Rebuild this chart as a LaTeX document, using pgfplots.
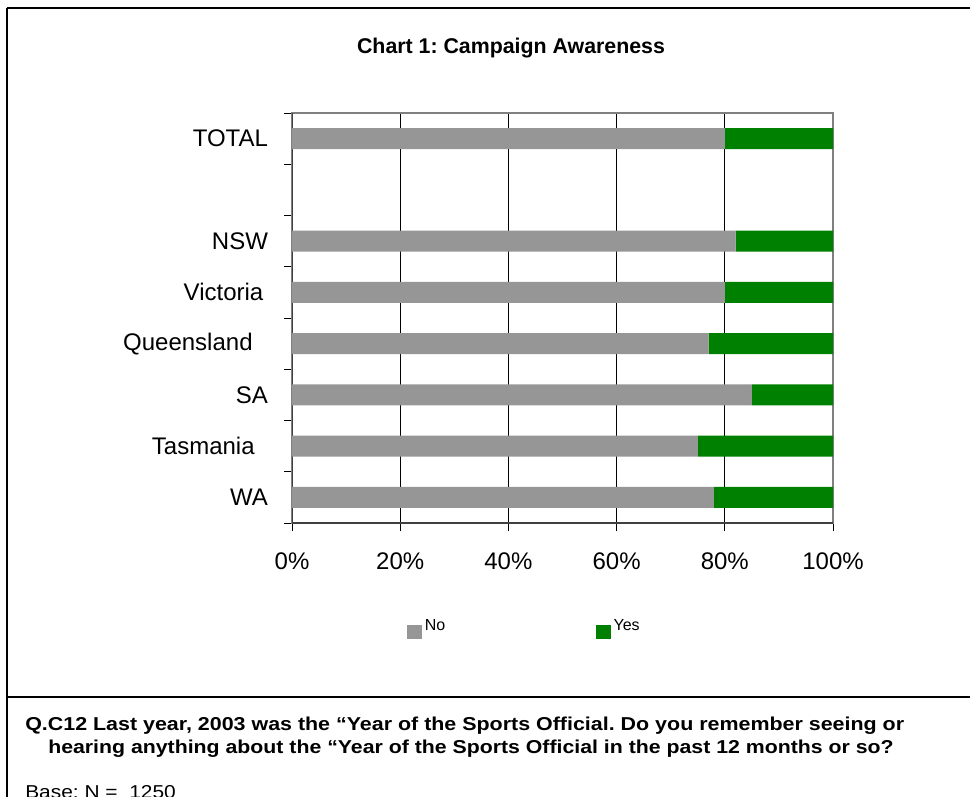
\documentclass[border=0pt]{standalone}
\usepackage{graphicx}
\usepackage{pgfplots}
\pgfplotsset{compat=1.18}
\usepackage{fontspec}
\setmainfont{Liberation Sans}
\frenchspacing

\definecolor{barNo}{RGB}{150,150,150}
\definecolor{barYes}{RGB}{0,128,0}
\definecolor{axgray}{RGB}{128,128,128}
\definecolor{axdark}{RGB}{64,64,64}

\begin{document}
\begin{tikzpicture}
% page = 970 x 796 px, 1px = 0.75pt
\useasboundingbox (0,0) rectangle (727.5pt,-597pt);
\clip (0,0) rectangle (727.5pt,-597pt);
\begin{scope}[x=0.75pt,y=-0.75pt]
  \draw[line width=1.8pt] (7,8) -- (980,8);
  \draw[line width=1.8pt] (7,8) -- (7,810);
  \draw[line width=1.5pt] (7,697) -- (980,697);
  \node[anchor=base, inner sep=0, font=\bfseries\fontsize{16}{19}\selectfont]
    at (511,53) {Chart 1: Campaign Awareness};
  \node[anchor=base west, inner sep=0, font=\bfseries\fontsize{14}{17}\selectfont]
    at (25,730) {\scalebox{1.148}[1]{Q.C12 Last year, 2003 was the “Year of the Sports Official. Do you remember seeing or}};
  \node[anchor=base west, inner sep=0, font=\bfseries\fontsize{14}{17}\selectfont]
    at (48,753) {\scalebox{1.14}[1]{hearing anything about the “Year of the Sports Official in the past 12 months or so?}};
  \node[anchor=base west, inner sep=0, font=\fontsize{14}{17}\selectfont]
    at (25,798) {\scalebox{1.12}[1]{Base: N =\ \ 1250}};
\end{scope}

\begin{axis}[
  at={(219pt,-392.25pt)}, anchor=south west,
  scale only axis, width=405.75pt, height=307.5pt,
  xbar stacked, bar width=0.41,
  xmin=0, xmax=100, ymin=-0.5, ymax=7.5,
  xtick={0,20,...,100},
  xticklabel={\pgfmathprintnumber{\tick}\%},
  /pgf/number format/assume math mode=true,
  ytick={-0.5,0.5,1.5,2.5,3.5,4.5,5.5,6.5,7.5},
  yticklabels={},
  extra y ticks={0,1,2,3,4,5,7},
  extra y tick labels={WA,Tasmania\kern10pt,SA,Queensland\kern11.5pt,Victoria\kern3.5pt,NSW,TOTAL},
  extra y tick style={major tick length=0pt},
  tick align=outside, tick pos=left,
  major tick length=6pt,
  tick style={black, line width=0.75pt},
  xmajorgrids, major x grid style={black, line width=0.9pt},
  axis line style={axgray, line width=1.5pt},
  ticklabel style={font=\fontsize{18}{21}\selectfont},
  yticklabel style={xshift=-14.5pt},
  xticklabel style={yshift=-13pt},
  legend columns=2,
  legend image code/.code={\fill[#1] (0pt,-10pt) rectangle (11.25pt,0.5pt);},
  legend style={draw=none, fill=none, at={(0.205,-0.221)}, anchor=north west,
    font=\fontsize{12}{14}\selectfont,
    /tikz/every even column/.append style={column sep=111pt}},
]
\addplot[fill=barNo, draw=none] coordinates {
  (78,0) (75,1) (85,2) (77,3) (80,4) (82,5) (80,7)};
\addlegendentry{No}
\addplot[fill=barYes, draw=none] coordinates {
  (22,0) (25,1) (15,2) (23,3) (20,4) (18,5) (20,7)};
\addlegendentry{Yes}
\draw[axdark, line width=1.5pt] (rel axis cs:0,1) -- (rel axis cs:0,0) -- (rel axis cs:1,0);
\end{axis}
\end{tikzpicture}
\end{document}
